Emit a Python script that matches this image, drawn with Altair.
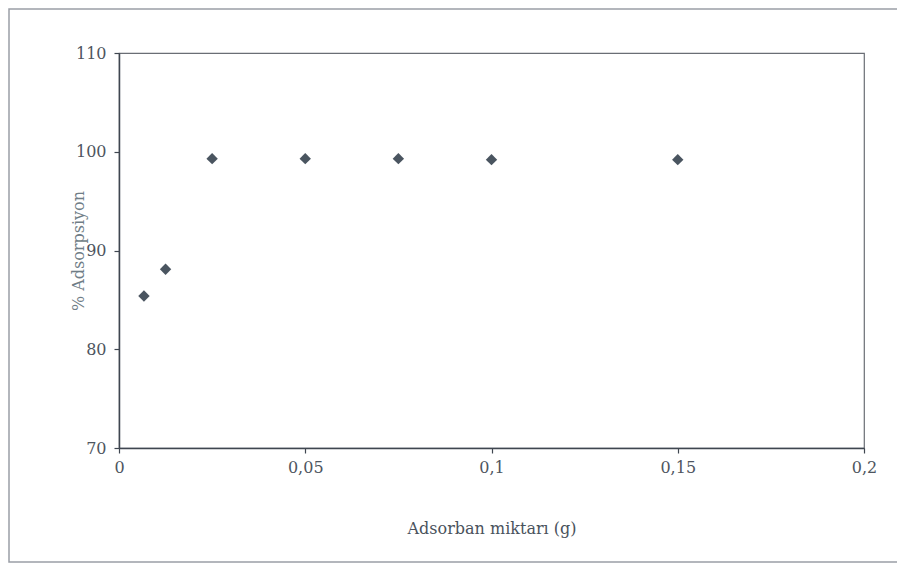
import altair as alt
import pandas as pd

adsorban_g = [0.0067, 0.0125, 0.025, 0.05, 0.075, 0.1, 0.15]
adsorpsiyon = [85.4, 88.1, 99.3, 99.3, 99.3, 99.2, 99.2]
x_ticks = [0, 0.05, 0.1, 0.15, 0.2]
y_ticks = [70, 80, 90, 100, 110]

df = pd.DataFrame({"x": adsorban_g, "y": adsorpsiyon})

FONT = "DejaVu Serif"

frame = alt.Chart(pd.DataFrame({"a": [0]})).mark_rect(
    fill=None, stroke="#9a9ea6", strokeWidth=1.5
).encode(
    x=alt.value(-110), x2=alt.value(800),
    y=alt.value(-44), y2=alt.value(509),
)

points = alt.Chart(df).mark_point(
    shape="diamond", filled=True, size=130, color="#3b4652", opacity=0.92
).encode(
    x=alt.X("x:Q",
            scale=alt.Scale(domain=[0, 0.2], nice=False, zero=False),
            axis=alt.Axis(values=x_ticks, title="Adsorban miktarı (g)",
                          labelExpr="replace(format(datum.value, ''), '.', ',')",
                          grid=False, tickSize=5, labelPadding=6, labelFlush=False,
                          titleY=80, titleBaseline="middle")),
    y=alt.Y("y:Q",
            scale=alt.Scale(domain=[70, 110], nice=False, zero=False),
            axis=alt.Axis(values=y_ticks, title="% Adsorpsiyon",
                          grid=False, tickSize=5, labelPadding=8, labelFlush=False,
                          titleX=-41, titleBaseline="middle",
                          titleColor="#6f7d86")),
)

chart = alt.layer(frame, points).properties(
    width=745, height=395,
    padding={"left": 111, "top": 45, "right": 33, "bottom": 116},
    autosize=alt.AutoSizeParams(type="none"),
).configure_view(
    stroke="#6a6e75", strokeWidth=1.2
).configure_axis(
    labelFont=FONT, titleFont=FONT, labelFontSize=16, titleFontSize=16,
    labelColor="#4e5560", titleColor="#4a525c", titleFontWeight="normal",
    domainColor="#3f4650", tickColor="#3f4650", domainWidth=1.5, tickWidth=1.2,
)

chart.save("out.html", embed_options={"renderer": "svg", "actions": False})
